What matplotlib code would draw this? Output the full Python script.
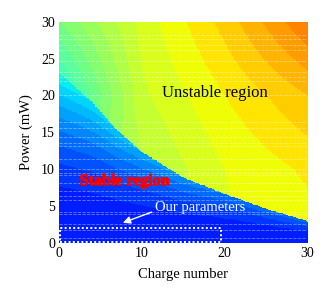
import numpy as np
import matplotlib
matplotlib.use('Agg')
import matplotlib.pyplot as plt
import matplotlib.patheffects as pe
from matplotlib.patches import Rectangle

plt.rcParams['font.family'] = ['Liberation Serif', 'DejaVu Serif']

# stability threshold
charge_th = [0, 2, 4, 7, 10, 15, 20, 25, 30]
power_th = [23, 21, 19, 15.2, 12.3, 8.8, 6.6, 4.6, 2.9]

# colour value (jet scale) in the unstable region, rows = power, cols = charge
grid_charge = [0, 10, 20, 30]
grid_power = [0, 10, 20, 30]
unstable_val = [
    [0.50, 0.56, 0.62, 0.635],
    [0.50, 0.57, 0.625, 0.655],
    [0.40, 0.595, 0.65, 0.70],
    [0.50, 0.61, 0.685, 0.775],
]

# colour value in the stable region: at the threshold edge and at zero power
stable_edge = [0.38, 0.30, 0.25, 0.24]
stable_bottom = [0.15, 0.15, 0.15, 0.15]

# our working point
our_charge = 19.5
our_power = 2.0

# faint scan lines seen across the image (power values)
scan_rows = [28.2, 27.6, 26.9, 26.2, 24.7, 23.2, 22.5, 22.0, 20.0, 16.4, 15.6,
             14.3, 13.6, 13.1, 11.4, 10.0, 9.5, 9.2, 8.1, 7.1, 6.4, 5.8,
             4.2, 3.9, 2.6, 1.7, 0.7]


def bilinear(x, y, xs, ys, table):
    table = np.array(table)
    rows = np.array([np.interp(x, xs, row) for row in table])
    out = np.empty_like(x)
    for i in range(x.shape[0]):
        for j in range(x.shape[1]):
            out[i, j] = np.interp(y[i, j], ys, rows[:, i, j])
    return out


n = np.linspace(0, 30, 301)
p = np.linspace(0, 30, 301)
N, P = np.meshgrid(n, p)

pth = np.interp(N, charge_th, power_th)
v_un = bilinear(N, P, grid_charge, grid_power, unstable_val)
edge = np.interp(N, grid_charge, stable_edge)
bot = np.interp(N, grid_charge, stable_bottom)
ratio = np.clip(P / pth, 0, 1)
v_st = bot + (edge - bot) * ratio ** 2.0
val = np.where(P > pth, v_un, v_st)

fig = plt.figure(figsize=(3.32, 2.98), dpi=100)
ax = fig.add_axes([0.178, 0.185, 0.747, 0.742])

ax.imshow(val, extent=[0, 30, 0, 30], origin='lower', aspect='auto',
          cmap=plt.get_cmap('jet', 40), vmin=0, vmax=1, interpolation='nearest')

for y in scan_rows:
    ax.axhline(y, color='white', lw=0.6, alpha=0.4, ls=(0, (4, 1.5)))

ax.add_patch(Rectangle((0.1, 0.08), our_charge, our_power - 0.08, fill=False,
                       ec='white', lw=1.4, ls=(0, (1, 1.2))))

ax.text(12.5, 20.4, 'Unstable region', fontsize=12, color='black', va='center')
ax.text(2.5, 8.4, 'Stable region', fontsize=11.5, color='#ff0000',
        fontweight='bold', va='center',
        path_effects=[pe.withStroke(linewidth=0.8, foreground='#ff0000')])
ax.text(11.6, 4.8, 'Our parameters', fontsize=10.5, color='white', va='center')
ax.annotate('', xy=(7.4, 2.6), xytext=(11.5, 4.3),
            arrowprops=dict(arrowstyle='-|>', color='white', lw=1,
                            mutation_scale=11))

ax.set_xlim(0, 30)
ax.set_ylim(0, 30)
ax.set_xticks([0, 10, 20, 30])
ax.set_yticks([0, 5, 10, 15, 20, 25, 30])
ax.tick_params(length=0, labelsize=10, pad=3)
for s in ax.spines.values():
    s.set_visible(False)

ax.set_xlabel('Charge number', fontsize=10.5, labelpad=6)
ax.set_ylabel('Power (mW)', fontsize=10.5, labelpad=6)

fig.savefig('out.png', dpi=100)
